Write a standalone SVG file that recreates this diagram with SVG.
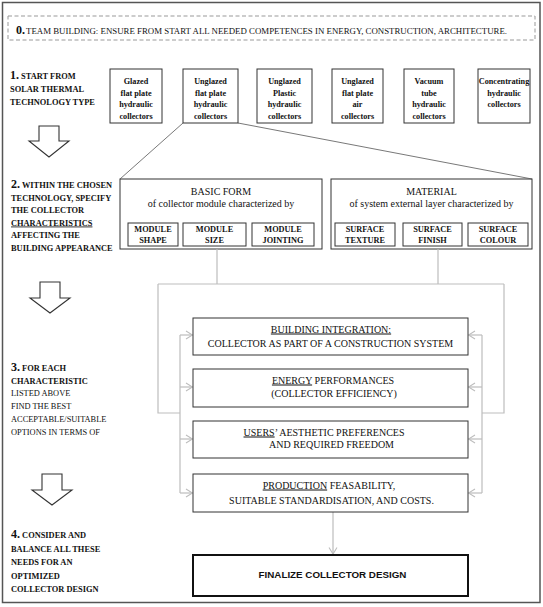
<svg xmlns="http://www.w3.org/2000/svg" width="543" height="607" viewBox="0 0 543 607">
<style>
.t{font-family:"Liberation Serif","DejaVu Serif","Noto Serif",serif;fill:#111}
.num{font-size:12px;font-weight:bold}
.st{font-size:8.4px;font-weight:bold}
.stn{font-size:8.4px;font-weight:normal}
.coll{font-size:8.2px;font-weight:bold;text-anchor:middle}
.sub{font-size:8.3px;font-weight:bold;text-anchor:middle}
.mid{font-size:10px;text-anchor:middle}
.box{fill:#fff;stroke:#333;stroke-width:1}
.conn{fill:none;stroke:#bdbdbd;stroke-width:1.2}
.zoomline{fill:none;stroke:#555;stroke-width:0.8}
.big{fill:#fff;stroke:#333;stroke-width:1.1}
.u{text-decoration:underline}
</style>
<defs>
<marker id="chev" viewBox="0 0 8 10" refX="7.5" refY="5" markerWidth="8" markerHeight="10" markerUnits="userSpaceOnUse" orient="auto">
<path d="M1,1 L7.5,5 L1,9" fill="none" stroke="#bdbdbd" stroke-width="1.1"/>
</marker>
</defs>
<rect x="0" y="0" width="543" height="607" fill="#fff"/>
<rect x="2.5" y="2.5" width="537.5" height="600" fill="none" stroke="#555" stroke-width="1.5"/>

<g id="step0">
<rect x="8" y="16" width="527" height="24" fill="none" stroke="#999" stroke-width="1" stroke-dasharray="4,2.5"/>
<text class="t" x="16" y="34"><tspan class="num">0.</tspan><tspan font-size="9" x="26" textLength="481" lengthAdjust="spacingAndGlyphs">TEAM BUILDING: ENSURE FROM START ALL NEEDED COMPETENCES IN ENERGY, CONSTRUCTION, ARCHITECTURE.</tspan></text>
</g>

<g id="step1-label">
<text class="t st" x="10" y="79"><tspan class="num">1.</tspan> START FROM</text>
<text class="t st" x="10" y="92">SOLAR THERMAL</text>
<text class="t st" x="10" y="105">TECHNOLOGY TYPE</text>
</g>

<g id="collector1"><rect class="box" x="110" y="69" width="52" height="54"/>
<text class="t coll" x="136" y="84">Glazed</text><text class="t coll" x="136" y="95.7">flat plate</text><text class="t coll" x="136" y="107.4">hydraulic</text><text class="t coll" x="136" y="119">collectors</text></g>
<g id="collector2"><rect class="box" x="183" y="69" width="55" height="54" stroke-width="2"/>
<text class="t coll" x="210.5" y="84">Unglazed</text><text class="t coll" x="210.5" y="95.7">flat plate</text><text class="t coll" x="210.5" y="107.4">hydraulic</text><text class="t coll" x="210.5" y="119">collectors</text></g>
<g id="collector3"><rect class="box" x="257" y="69" width="55" height="54"/>
<text class="t coll" x="284.5" y="84">Unglazed</text><text class="t coll" x="284.5" y="95.7">Plastic</text><text class="t coll" x="284.5" y="107.4">hydraulic</text><text class="t coll" x="284.5" y="119">collectors</text></g>
<g id="collector4"><rect class="box" x="332" y="69" width="51" height="54"/>
<text class="t coll" x="357.5" y="84">Unglazed</text><text class="t coll" x="357.5" y="95.7">flat plate</text><text class="t coll" x="357.5" y="107.4">air</text><text class="t coll" x="357.5" y="119">collectors</text></g>
<g id="collector5"><rect class="box" x="404" y="69" width="50" height="54"/>
<text class="t coll" x="429" y="84">Vacuum</text><text class="t coll" x="429" y="95.7">tube</text><text class="t coll" x="429" y="107.4">hydraulic</text><text class="t coll" x="429" y="119">collectors</text></g>
<g id="collector6"><rect class="box" x="478" y="69" width="52" height="54"/>
<text class="t coll" x="504" y="84">Concentrating</text><text class="t coll" x="504" y="95.7">hydraulic</text><text class="t coll" x="504" y="107.4">collectors</text></g>

<g id="arrow1"><polygon class="big" points="39,126 59,126 59,141 69,141 49,157 29,141 39,141"/></g>

<g id="step2-label">
<text class="t st" x="11" y="188"><tspan class="num">2.</tspan> WITHIN THE CHOSEN</text>
<text class="t st" x="11" y="200.5">TECHNOLOGY, SPECIFY</text>
<text class="t st" x="11" y="213">THE COLLECTOR</text>
<text class="t st u" x="11" y="225.5">CHARACTERISTICS</text>
<text class="t st" x="11" y="238">AFFECTING THE</text>
<text class="t st" x="11" y="250.5">BUILDING APPEARANCE</text>
</g>

<g id="basic-form">
<rect class="box" x="120" y="179" width="202" height="70"/>
<text class="t mid" x="221" y="195">BASIC FORM</text>
<text class="t mid" x="221" y="207" font-size="10.5">of collector module characterized by</text>
<g id="module-shape"><rect class="box" x="128" y="223" width="50" height="23"/><text class="t sub" x="153" y="232">MODULE</text><text class="t sub" x="153" y="243">SHAPE</text></g>
<g id="module-size"><rect class="box" x="183" y="223" width="63" height="23"/><text class="t sub" x="214.5" y="232">MODULE</text><text class="t sub" x="214.5" y="243">SIZE</text></g>
<g id="module-jointing"><rect class="box" x="252" y="223" width="62" height="23"/><text class="t sub" x="283" y="232">MODULE</text><text class="t sub" x="283" y="243">JOINTING</text></g>
</g>

<g id="material">
<rect class="box" x="331" y="179" width="201" height="70"/>
<text class="t mid" x="431.5" y="195">MATERIAL</text>
<text class="t mid" x="431.5" y="207" font-size="10.5">of system external layer characterized by</text>
<g id="surface-texture"><rect class="box" x="335" y="223" width="60" height="23"/><text class="t sub" x="365" y="232">SURFACE</text><text class="t sub" x="365" y="243">TEXTURE</text></g>
<g id="surface-finish"><rect class="box" x="403" y="223" width="59" height="23"/><text class="t sub" x="432.5" y="232">SURFACE</text><text class="t sub" x="432.5" y="243">FINISH</text></g>
<g id="surface-colour"><rect class="box" x="468" y="223" width="60" height="23"/><text class="t sub" x="498" y="232">SURFACE</text><text class="t sub" x="498" y="243">COLOUR</text></g>
</g>

<g id="arrow2"><polygon class="big" points="40,282 60,282 60,298 70,298 50,313 30,298 40,298"/></g>

<g id="step3-label">
<text class="t st" x="11" y="370.5"><tspan class="num">3.</tspan> FOR EACH</text>
<text class="t st" x="11" y="383.5">CHARACTERISTIC</text>
<text class="t stn" x="11" y="396">LISTED ABOVE</text>
<text class="t stn" x="11" y="409">FIND THE BEST</text>
<text class="t stn" x="11" y="421.5">ACCEPTABLE/SUITABLE</text>
<text class="t stn" x="11" y="434.5">OPTIONS IN TERMS OF</text>
</g>

<g id="connectors">
<path class="zoomline" d="M120,179 L183,123 M238,123 L532,179"/>
<path class="conn" d="M217,249 V284 M438,249 V284 M158,284 H504"/>
<path class="conn" d="M158,284 V413 H180 M504,284 V413 H482"/>
<path class="conn" d="M180,335 V493 M482,335 V493"/>
<path class="conn" marker-end="url(#chev)" d="M180,335 H192.5"/>
<path class="conn" marker-end="url(#chev)" d="M180,387 H192.5"/>
<path class="conn" marker-end="url(#chev)" d="M180,439 H192.5"/>
<path class="conn" marker-end="url(#chev)" d="M180,493 H192.5"/>
<path class="conn" marker-end="url(#chev)" d="M482,335 H468.5"/>
<path class="conn" marker-end="url(#chev)" d="M482,387 H468.5"/>
<path class="conn" marker-end="url(#chev)" d="M482,439 H468.5"/>
<path class="conn" marker-end="url(#chev)" d="M482,493 H468.5"/>
<path class="conn" marker-end="url(#chev)" d="M333,512 V554"/>
</g>

<g id="building-integration"><rect class="box" x="193" y="318" width="275" height="37"/>
<text class="t mid" x="331" y="332.5"><tspan class="u">BUILDING INTEGRATION:</tspan></text>
<text class="t mid" x="330.5" y="346.5">COLLECTOR AS PART OF A CONSTRUCTION SYSTEM</text></g>
<g id="energy"><rect class="box" x="193" y="369" width="275" height="38"/>
<text class="t mid" x="333" y="383.5"><tspan class="u">ENERGY</tspan>  PERFORMANCES</text>
<text class="t mid" x="334" y="396.5">(COLLECTOR EFFICIENCY)</text></g>
<g id="users"><rect class="box" x="193" y="421" width="275" height="37"/>
<text class="t mid" x="324" y="435.5"><tspan class="u">USERS</tspan>’ AESTHETIC PREFERENCES</text>
<text class="t mid" x="331.5" y="447.5">AND REQUIRED FREEDOM</text></g>
<g id="production"><rect class="box" x="193" y="474" width="275" height="38"/>
<text class="t mid" x="329" y="488.5"><tspan class="u">PRODUCTION</tspan> FEASABILITY,</text>
<text class="t mid" x="331.5" y="503.5">SUITABLE STANDARDISATION, AND COSTS.</text></g>

<g id="finalize"><rect x="193" y="555" width="275" height="41" fill="#fff" stroke="#111" stroke-width="2"/>
<text x="332.5" y="578" font-family="'Liberation Sans',Arial,sans-serif" font-weight="bold" font-size="9.8" text-anchor="middle" fill="#111">FINALIZE COLLECTOR DESIGN</text></g>

<g id="arrow3"><polygon class="big" points="42,474 62,474 62,490 72,490 52,505 32,490 42,490"/></g>

<g id="step4-label">
<text class="t st" x="11" y="537.5"><tspan class="num">4.</tspan> CONSIDER AND</text>
<text class="t st" x="11" y="551.5">BALANCE ALL THESE</text>
<text class="t st" x="11" y="565">NEEDS FOR AN</text>
<text class="t st" x="11" y="578.5">OPTIMIZED</text>
<text class="t st" x="11" y="592">COLLECTOR DESIGN</text>
</g>
</svg>
